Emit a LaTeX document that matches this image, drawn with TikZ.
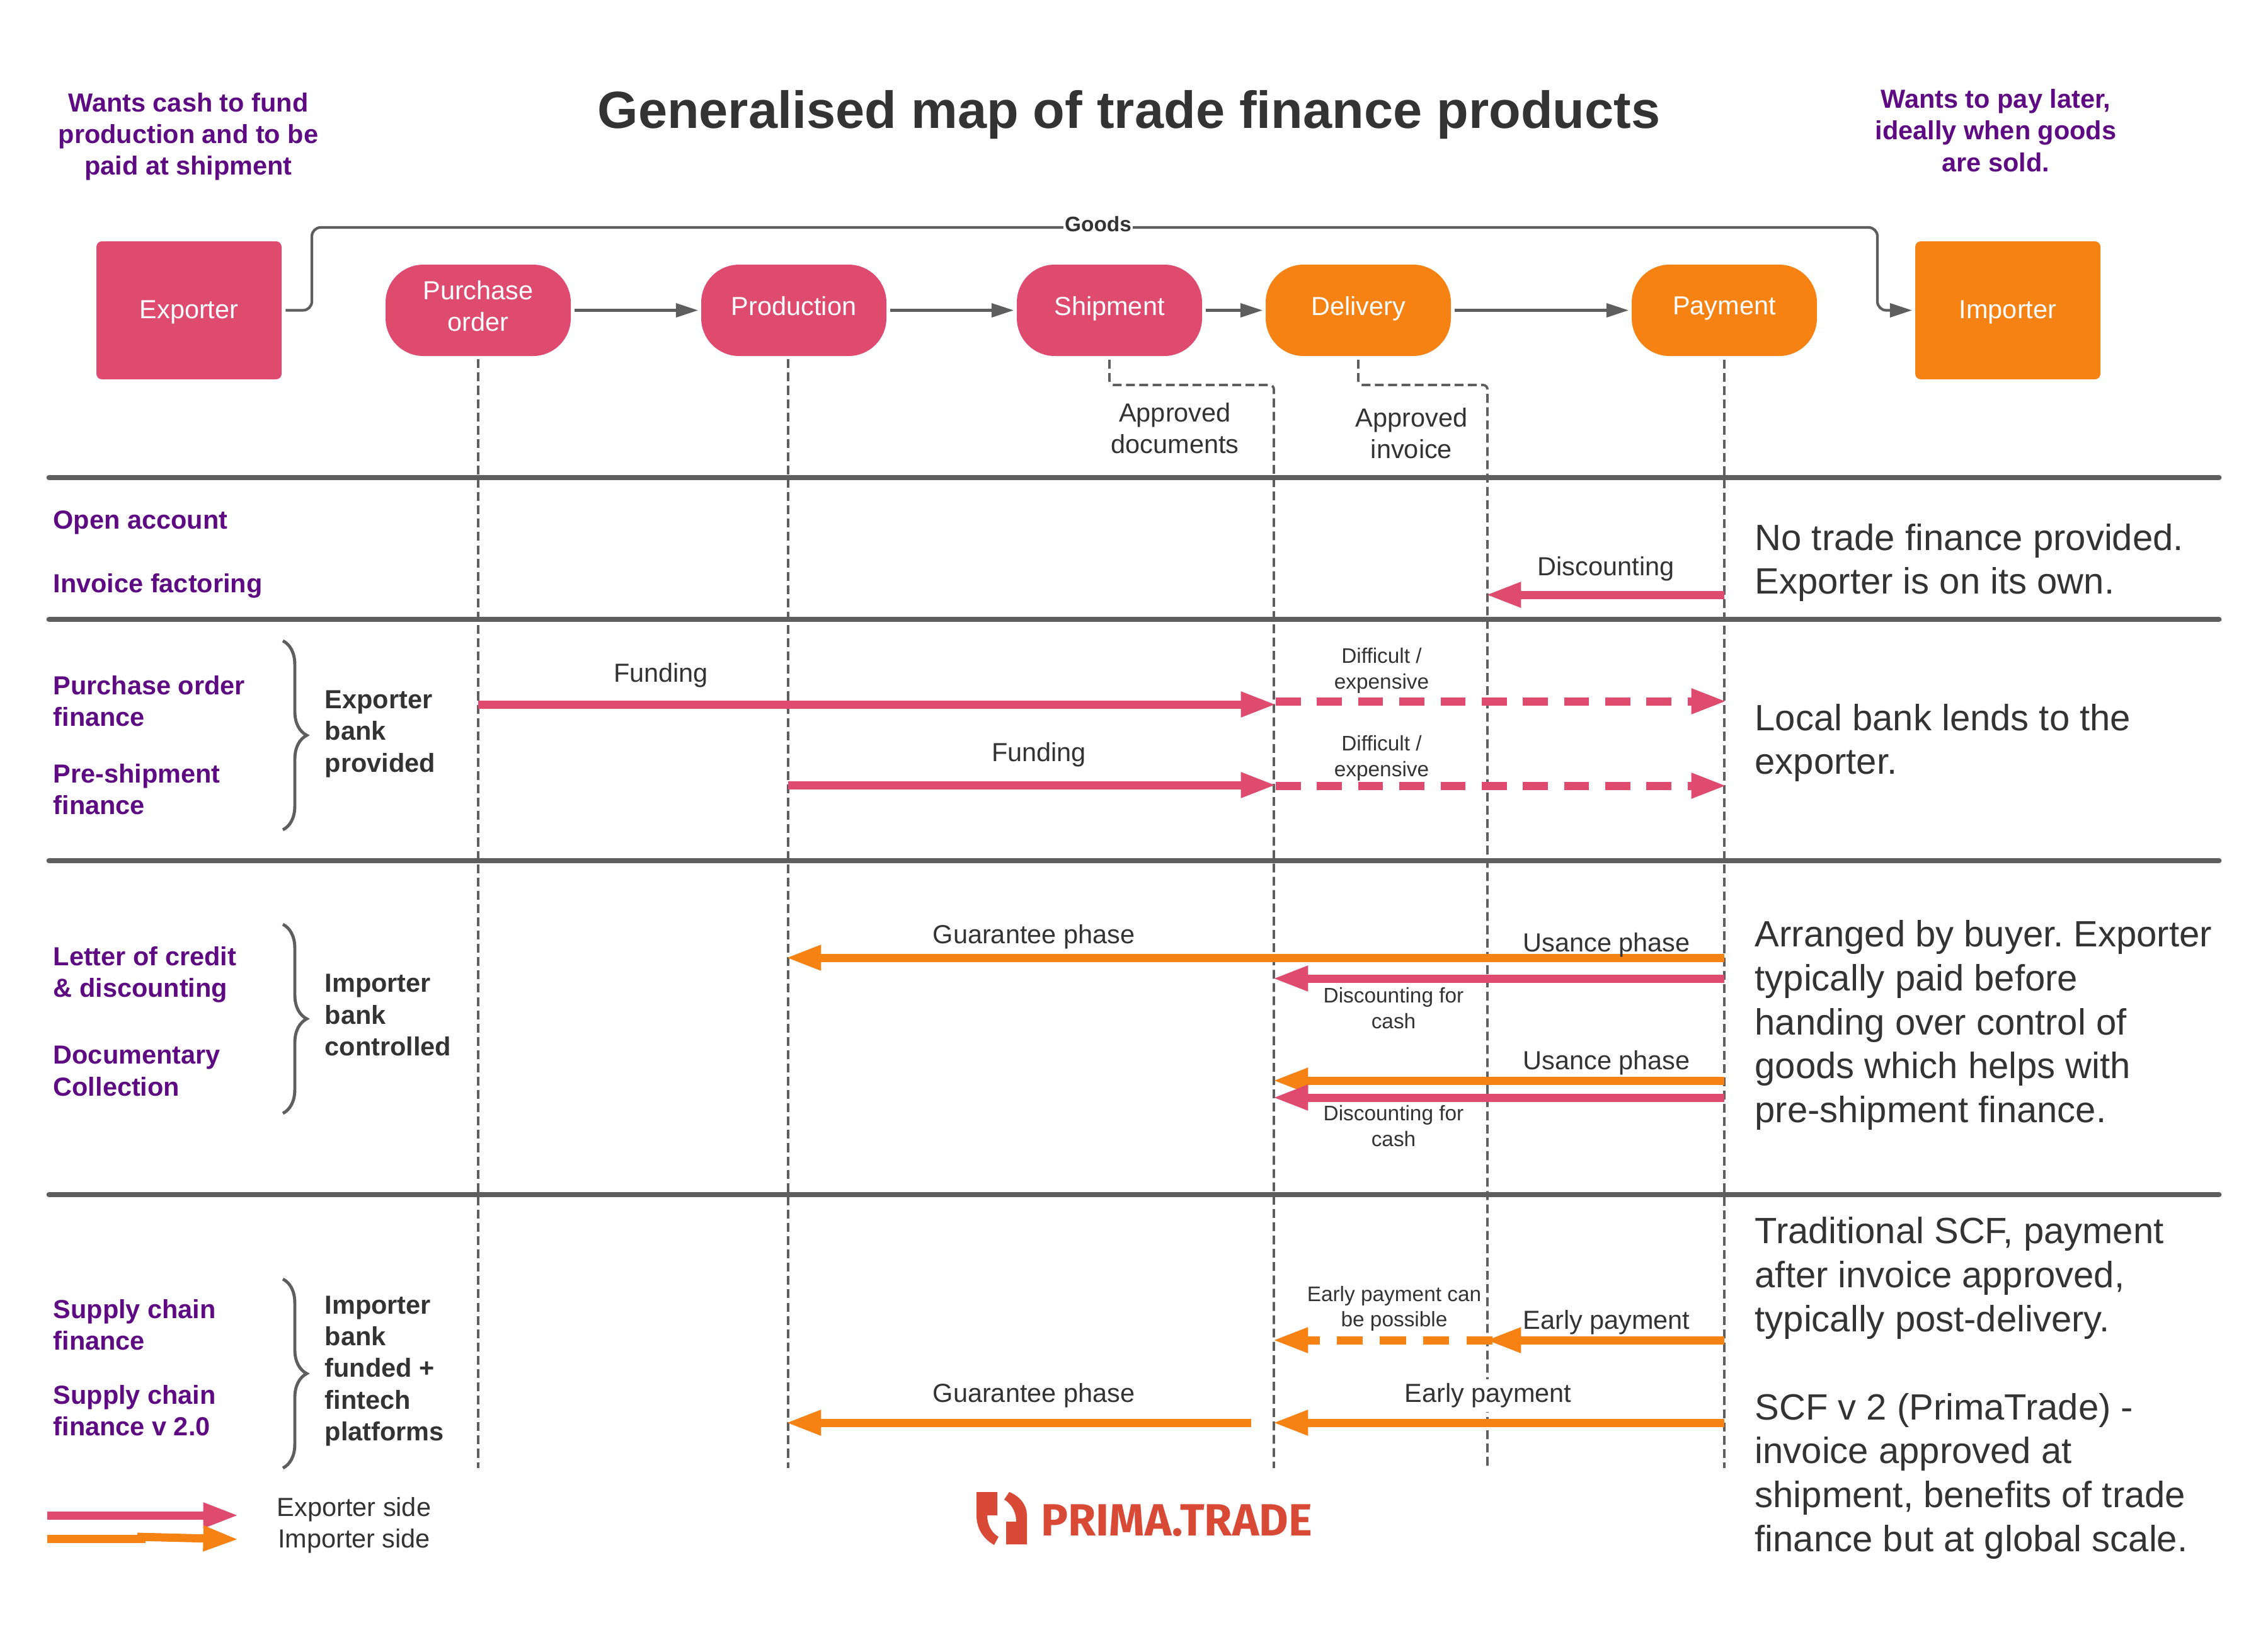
\documentclass[tikz,border=0pt]{standalone}
\usepackage{fontspec}
\setmainfont{Liberation Sans}
\newfontfamily\logofont{Fira Sans}
\usetikzlibrary{arrows.meta, decorations.pathreplacing}
\definecolor{exportside}{RGB}{222, 75, 110}
\definecolor{importside}{RGB}{245, 130, 19}
\definecolor{purpletext}{RGB}{94, 10, 130}
\definecolor{greyline}{RGB}{94, 94, 94}
\definecolor{darktext}{RGB}{51, 51, 51}
\definecolor{logored}{RGB}{216, 74, 53}
\tikzset{
    bodytext/.style={inner sep=0pt, text=darktext, align=center, font=\fontsize{11.8}{14.3}\selectfont},
    smalltext/.style={inner sep=0pt, text=darktext, align=center, font=\fontsize{9.5}{11.5}\selectfont},
    sidetext/.style={inner sep=0pt, anchor=west, align=left, text=darktext, font=\fontsize{16.5}{19.9}\selectfont},
    productlabel/.style={inner sep=0pt, anchor=west, align=left, text=purpletext, font=\bfseries\fontsize{11.8}{14.3}\selectfont},
    bankslabel/.style={inner sep=0pt, anchor=west, align=left, text=darktext, font=\bfseries\fontsize{11.8}{14.3}\selectfont},
    needlabel/.style={inner sep=0pt, align=center, text=purpletext, font=\bfseries\fontsize{11.8}{14.3}\selectfont},
    partybox/.style={minimum width=2.94cm, minimum height=2.19cm, inner sep=0pt, rounded corners=2.5pt, text=white, font=\fontsize{11.8}{14.3}\selectfont, align=center, execute at begin node=\rule{0pt}{10pt}, execute at end node=\vphantom{g}},
    stagebox/.style={minimum width=2.94cm, minimum height=1.45cm, inner sep=0pt, rounded corners=0.6cm, text=white, font=\fontsize{11.8}{14.3}\selectfont, align=center, execute at begin node=\vphantom{P}, execute at end node=\rule[-3.9pt]{0pt}{0pt}},
    flowarrow/.style={draw=greyline, line width=1.2pt, -{Triangle[length=10pt, width=6.2pt]}, shorten <=1.6pt, shorten >=1.2pt},
    lanedash/.style={draw=greyline, line width=1.1pt, dash pattern=on 4pt off 2pt, rounded corners=2pt, shorten <=1.5pt},
    rowrule/.style={draw=greyline, line width=2.5pt, line cap=round},
    rowbrace/.style={draw=greyline, line width=1.4pt, decorate, decoration={brace, amplitude=10.8pt}},
    exportarrow/.style={draw=exportside, line width=3.7pt, -{Triangle[length=16pt, width=10.6pt]}, shorten >=-1.1pt},
    importarrow/.style={draw=importside, line width=3.7pt, -{Triangle[length=16pt, width=10.6pt]}, shorten >=-1.1pt},
}

\begin{document}
\frenchspacing
\begin{tikzpicture}[x=1cm, y=-1cm]
    \useasboundingbox (0,0) rectangle (36,25.86);

    % Title and what each side wants
    \node[inner sep=0pt, text=darktext, font=\bfseries\fontsize{23.6}{28}\selectfont] (title) at (17.92, 1.82) {Generalised map of trade finance products};
    \node[needlabel] (exporterwants) at (2.99, 2.17) {Wants cash to fund\\production and to be\\paid at shipment};
    \node[needlabel] (importerwants) at (31.68, 2.07) {Wants to pay later,\\ideally when goods\\are sold.};

    % Parties and stages
    \node[partybox, fill=exportside] (exporter) at (3.00, 4.925) {Exporter};
    \node[stagebox, fill=exportside] (purchase) at (7.59, 4.925) {Purchase\\order};
    \node[stagebox, fill=exportside] (production) at (12.60, 4.925) {Production};
    \node[stagebox, fill=exportside] (shipment) at (17.61, 4.925) {Shipment};
    \node[stagebox, fill=importside] (delivery) at (21.56, 4.925) {Delivery};
    \node[stagebox, fill=importside] (payment) at (27.37, 4.925) {Payment};
    \node[partybox, fill=importside] (importer) at (31.87, 4.925) {Importer};

    % Stage arrows
    \draw[flowarrow] (purchase) -- (production);
    \draw[flowarrow] (production) -- (shipment);
    \draw[flowarrow] (shipment) -- (delivery);
    \draw[flowarrow] (delivery) -- (payment);

    % Goods line
    \coordinate (goodsleft) at (4.95, 3.61);
    \coordinate (goodsright) at (29.80, 3.61);
    \draw[flowarrow, rounded corners=4pt] (exporter) -| (goodsleft) -- (goodsright) |- (importer);
    \node[inner sep=0.5pt, fill=white, text=darktext, font=\bfseries\fontsize{9.5}{11.5}\selectfont] (goods) at (17.43, 3.56) {Goods};

    % Dashed lanes
    \coordinate (purchaseend) at (7.59, 23.30);
    \coordinate (productiontop) at (12.51, 5.65);
    \coordinate (productionend) at (12.51, 23.30);
    \coordinate (docsbend) at (20.22, 6.11);
    \coordinate (docsend) at (20.22, 23.30);
    \coordinate (invoicebend) at (23.61, 6.11);
    \coordinate (invoiceend) at (23.61, 23.30);
    \coordinate (paymentend) at (27.37, 23.30);
    \draw[lanedash] (purchase) ++(0, 0.725) -- (purchaseend);
    \draw[lanedash] (productiontop) -- (productionend);
    \draw[lanedash] (shipment.south) |- (docsbend) -- (docsend);
    \draw[lanedash] (delivery.south) |- (invoicebend) -- (invoiceend);
    \draw[lanedash] (payment.south) -- (paymentend);

    % Row rules
    \draw[rowrule] (0.78, 7.58) -- (35.22, 7.58);
    \draw[rowrule] (0.78, 9.83) -- (35.22, 9.83);
    \draw[rowrule] (0.78, 13.66) -- (35.22, 13.66);
    \draw[rowrule] (0.78, 18.96) -- (35.22, 18.96);

    \node[bodytext] (approveddocs) at (18.65, 6.80) {Approved\\documents};
    \node[bodytext] (approvedinvoice) at (22.405, 6.875) {Approved\\invoice};

    % Open account row
    \coordinate (discstart) at (27.37, 9.44);
    \coordinate (discend) at (23.62, 9.44);
    \draw[exportarrow] (discstart) -- (discend);
    \node[bodytext] (disclabel) at (25.49, 9.03) {Discounting};
    \node[productlabel] (openaccount) at (0.84, 8.29) {Open account};
    \node[productlabel] (factoring) at (0.84, 9.30) {Invoice factoring};
    \node[sidetext] (noprovided) at (27.85, 8.93) {No trade finance provided.\\Exporter is on its own.};

    % Exporter bank row
    \coordinate (fundastart) at (7.59, 11.18);
    \coordinate (fundaend) at (20.22, 11.18);
    \coordinate (hardastart) at (20.25, 11.13);
    \coordinate (hardaend) at (27.37, 11.13);
    \coordinate (fundbstart) at (12.51, 12.46);
    \coordinate (fundbend) at (20.22, 12.46);
    \coordinate (hardbstart) at (20.25, 12.47);
    \coordinate (hardbend) at (27.37, 12.47);
    \draw[exportarrow] (fundastart) -- (fundaend);
    \draw[exportarrow, dash pattern=on 11.3pt off 7.3pt] (hardastart) -- (hardaend);
    \draw[exportarrow] (fundbstart) -- (fundbend);
    \draw[exportarrow, dash pattern=on 11.3pt off 7.3pt] (hardbstart) -- (hardbend);
    \node[bodytext] (fundalabel) at (10.49, 10.72) {Funding};
    \node[bodytext] (fundblabel) at (16.49, 11.98) {Funding};
    \node[smalltext] (hardalabel) at (21.93, 10.645) {Difficult /\\expensive};
    \node[smalltext] (hardblabel) at (21.93, 12.035) {Difficult /\\expensive};
    \draw[rowbrace] (4.49, 10.17) -- (4.49, 13.17);
    \node[productlabel] (polabel) at (0.84, 11.13) {Purchase order\\finance};
    \node[productlabel] (preshiplabel) at (0.84, 12.53) {Pre-shipment\\finance};
    \node[bankslabel] (exporterbank) at (5.15, 11.65) {Exporter\\bank\\provided};
    \node[sidetext] (localbank) at (27.85, 11.79) {Local bank lends to the\\exporter.};

    % Importer bank row
    \coordinate (guarastart) at (27.37, 15.20);
    \coordinate (guaraend) at (12.51, 15.20);
    \coordinate (cashastart) at (27.37, 15.53);
    \coordinate (cashaend) at (20.24, 15.53);
    \coordinate (usancestart) at (27.37, 17.15);
    \coordinate (usanceend) at (20.24, 17.15);
    \coordinate (cashbstart) at (27.37, 17.42);
    \coordinate (cashbend) at (20.24, 17.42);
    \draw[importarrow] (guarastart) -- (guaraend);
    \draw[exportarrow] (cashastart) -- (cashaend);
    \draw[importarrow] (usancestart) -- (usanceend);
    \draw[exportarrow] (cashbstart) -- (cashbend);
    \node[bodytext] (guaralabel) at (16.41, 14.87) {Guarantee phase};
    \node[bodytext] (usancealabel) at (25.50, 15.00) {Usance phase};
    \node[smalltext] (cashalabel) at (22.12, 16.00) {Discounting for\\cash};
    \node[bodytext] (usanceblabel) at (25.50, 16.87) {Usance phase};
    \node[smalltext] (cashblabel) at (22.12, 17.87) {Discounting for\\cash};
    \draw[rowbrace] (4.49, 14.67) -- (4.49, 17.67);
    \node[productlabel] (lclabel) at (0.84, 15.47) {Letter of credit\\\& discounting};
    \node[productlabel] (collectionlabel) at (0.84, 17.00) {Documentary\\Collection};
    \node[bankslabel] (importerbank) at (5.15, 16.11) {Importer\\bank\\controlled};
    \node[sidetext] (arranged) at (27.85, 16.27) {Arranged by buyer. Exporter\\typically paid before\\handing over control of\\goods which helps with\\pre-shipment finance.};

    % Supply chain row
    \coordinate (earlystart) at (27.37, 21.27);
    \coordinate (earlyend) at (23.62, 21.27);
    \coordinate (maybestart) at (23.69, 21.27);
    \coordinate (maybeend) at (20.24, 21.27);
    \coordinate (paystart) at (27.37, 22.58);
    \coordinate (payend) at (20.24, 22.58);
    \coordinate (guarbstart) at (19.86, 22.58);
    \coordinate (guarbend) at (12.51, 22.58);
    \draw[importarrow, dash pattern=on 11.8pt off 7.7pt] (maybestart) -- (maybeend);
    \draw[importarrow] (earlystart) -- (earlyend);
    \draw[importarrow] (paystart) -- (payend);
    \draw[importarrow] (guarbstart) -- (guarbend);
    \node[smalltext] (maybelabel) at (22.13, 20.77) {Early payment can\\be possible};
    \node[bodytext] (earlylabel) at (25.50, 20.99) {Early payment};
    \node[bodytext, fill=white, inner sep=2pt] (paylabel) at (23.62, 22.15) {Early payment};
    \node[bodytext] (guarblabel) at (16.41, 22.15) {Guarantee phase};
    \draw[rowbrace] (4.49, 20.30) -- (4.49, 23.30);
    \node[productlabel] (scflabel) at (0.84, 21.03) {Supply chain\\finance};
    \node[productlabel] (scftwolabel) at (0.84, 22.39) {Supply chain\\finance v 2.0};
    \node[bankslabel] (fintechbank) at (5.15, 21.76) {Importer\\bank\\funded +\\fintech\\platforms};
    \node[sidetext] (traditional) at (27.85, 22.03) {Traditional SCF, payment\\after invoice approved,\\typically post-delivery.\\[19.9pt]SCF v 2 (PrimaTrade) -\\invoice approved at\\shipment, benefits of trade\\finance but at global scale.};

    % Legend
    \coordinate (keyastart) at (0.75, 24.05);
    \coordinate (keyaend) at (3.75, 24.05);
    \coordinate (keybstart) at (0.75, 24.42);
    \coordinate (keybmid) at (2.31, 24.42);
    \coordinate (keycstart) at (2.18, 24.39);
    \coordinate (keycend) at (3.75, 24.43);
    \draw[exportarrow] (keyastart) -- (keyaend);
    \draw[draw=importside, line width=3.7pt] (keybstart) -- (keybmid);
    \draw[importarrow] (keycstart) -- (keycend);
    \node[bodytext] (keyalabel) at (5.62, 23.96) {Exporter side};
    \node[bodytext] (keyblabel) at (5.62, 24.46) {Importer side};

    % Logo
    \fill[logored] (15.50, 23.68) -- (15.83, 23.68) -- (15.83, 24.05) -- (15.67, 24.05) .. controls (15.67, 24.20) and (15.74, 24.33) .. (15.85, 24.39) -- (15.78, 24.52) .. controls (15.60, 24.42) and (15.50, 24.25) .. (15.50, 24.05) -- cycle;
    \fill[logored] (15.94, 23.80) -- (16.02, 23.68) .. controls (16.20, 23.75) and (16.30, 23.90) .. (16.30, 24.05) -- (16.30, 24.51) -- (15.97, 24.51) -- (15.97, 24.15) -- (16.13, 24.15) .. controls (16.13, 24.00) and (16.06, 23.87) .. (15.94, 23.80) -- cycle;
    \node[inner sep=0pt, anchor=west, text=logored, font=\logofont\bfseries\fontsize{20.4}{24}\selectfont] (logotext) at (16.52, 24.13) {PRIMA.TRADE};
\end{tikzpicture}
\end{document}
